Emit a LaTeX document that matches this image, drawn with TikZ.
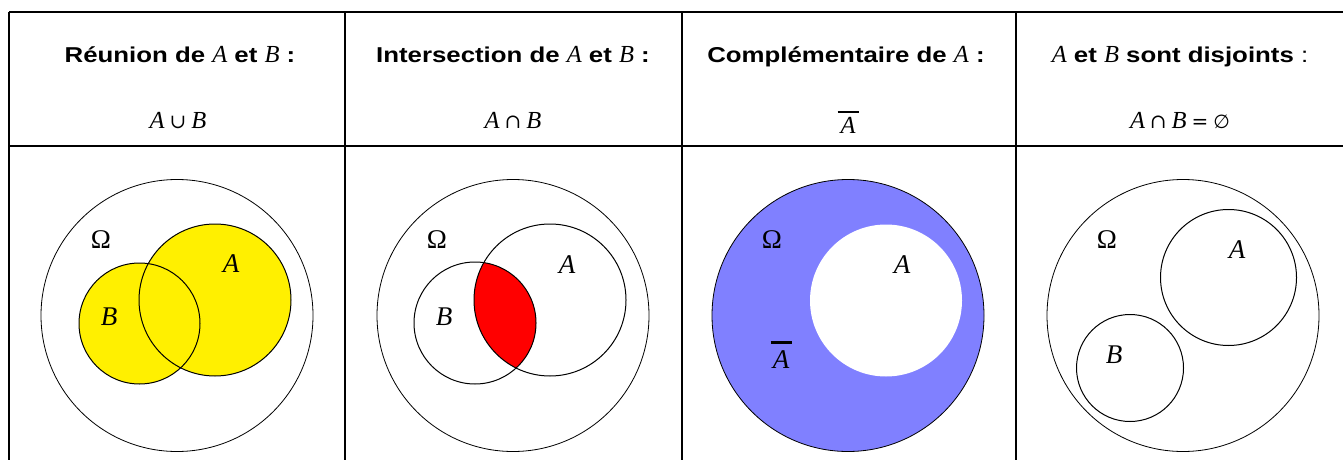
\documentclass[tikz,border=0pt]{standalone}
\usepackage{fontspec}
\setmainfont{Liberation Serif}
\setsansfont[FakeStretch=1.2]{Liberation Sans}
\newfontfamily\tmfont{Liberation Serif}
\newfontfamily\symfont{DejaVu Serif}
\newfontfamily\dvsans{DejaVu Sans}
\newcommand\mi[1]{{\tmfont\itshape #1}}
\newcommand\sy[1]{{\symfont\fontsize{20}{22}\selectfont #1}}
\newcommand\gap{\hspace{5pt}}
\newcommand\hm[1]{{\fontsize{24.5}{26}\selectfont\tmfont\mdseries\itshape #1}}
\newcommand\barA[3]{\vbox{\hrule height #1 width #3\kern #2\hbox to #3{\hss\mi{A}\hss}}}
\definecolor{vyellow}{RGB}{255,240,0}
\definecolor{vblue}{RGB}{128,128,255}
\definecolor{vred}{RGB}{255,0,0}
\tikzset{
  tab/.style={line width=2pt},
  outer/.style={line width=0.8pt},
  venn/.style={line width=1pt},
  lbl/.style={font=\fontsize{27}{30}\selectfont\tmfont, inner sep=0pt},
  hd/.style={font=\fontsize{21.5}{24}\selectfont\sffamily\bfseries, inner sep=0pt, anchor=base},
  hm2/.style={font=\fontsize{24.5}{26}\selectfont\tmfont, inner sep=0pt, anchor=base},
}
\begin{document}
\begin{tikzpicture}[x=1pt,y=-1pt]
\useasboundingbox (0,0) rectangle (1343,460);
% table
\draw[tab] (9,12) -- (1343,12);
\draw[tab] (9,146) -- (1343,146);
\foreach \xx in {9,345,682,1016} \draw[tab] (\xx,12) -- (\xx,460);
% headers
\node[hd] (h1) at (180,62.7) {Réunion de \hm{A} et \hm{B} :};
\node[hd] (h2) at (513,62.7) {Intersection de \hm{A} et \hm{B} :};
\node[hd] (h3) at (846,62.7) {Complémentaire de \hm{A} :};
\node[hd] (h4) at (1180,62.7) {\hm{A} et \hm{B} sont disjoints {\mdseries :}};
\node[hm2] (m1) at (178,128) {\mi{A}\gap\sy{∪}\gap\mi{B}};
\node[hm2] (m2) at (513,128) {\mi{A}\gap\sy{∩}\gap\mi{B}};
\node[hm2] (m3) at (848,133) {\barA{1.6pt}{4pt}{21pt}};
\node[hm2] (m4) at (1180,128) {\mi{A}\gap\sy{∩}\gap\mi{B}\gap\sy{=}\gap{\dvsans\fontsize{19}{22}\selectfont ∅}};
% column 1 : union
\fill[vyellow] (215,300) circle[radius=76];
\fill[vyellow] (139.5,323.5) circle[radius=60.5];
\draw[venn] (215,300) circle[radius=76];
\draw[venn] (139.5,323.5) circle[radius=60.5];
\draw[outer] (177,315.5) circle[radius=136];
\node[lbl] (o1) at (101,240) {Ω};
\node[lbl] (a1) at (231,264) {\mi{A}};
\node[lbl] (b1) at (109,317) {\mi{B}};
% column 2 : intersection
\begin{scope}
  \clip (475,323) circle[radius=61];
  \fill[vred] (550,300) circle[radius=76];
\end{scope}
\draw[venn] (550,300) circle[radius=76];
\draw[venn] (475,323) circle[radius=61];
\draw[outer] (513,315.5) circle[radius=136];
\node[lbl] (o2) at (437,240) {Ω};
\node[lbl] (a2) at (567,265) {\mi{A}};
\node[lbl] (b2) at (444,317) {\mi{B}};
% column 3 : complement
\fill[vblue] (848,315.5) circle[radius=136];
\fill[white] (886,300.5) circle[radius=76];
\draw[outer] (848,315.5) circle[radius=136];
\node[lbl] (o3) at (772,240) {Ω};
\node[lbl] (a3) at (902,265) {\mi{A}};
\node[lbl,anchor=base] (c3) at (781,368) {\barA{2.7pt}{6pt}{21pt}};
% column 4 : disjoint
\draw[venn] (1228.5,277.5) circle[radius=68];
\draw[venn] (1130,368) circle[radius=53.5];
\draw[outer] (1183,315.5) circle[radius=136];
\node[lbl] (o4) at (1107,240) {Ω};
\node[lbl] (a4) at (1237,250) {\mi{A}};
\node[lbl] (b4) at (1114,355) {\mi{B}};
\end{tikzpicture}
\end{document}
